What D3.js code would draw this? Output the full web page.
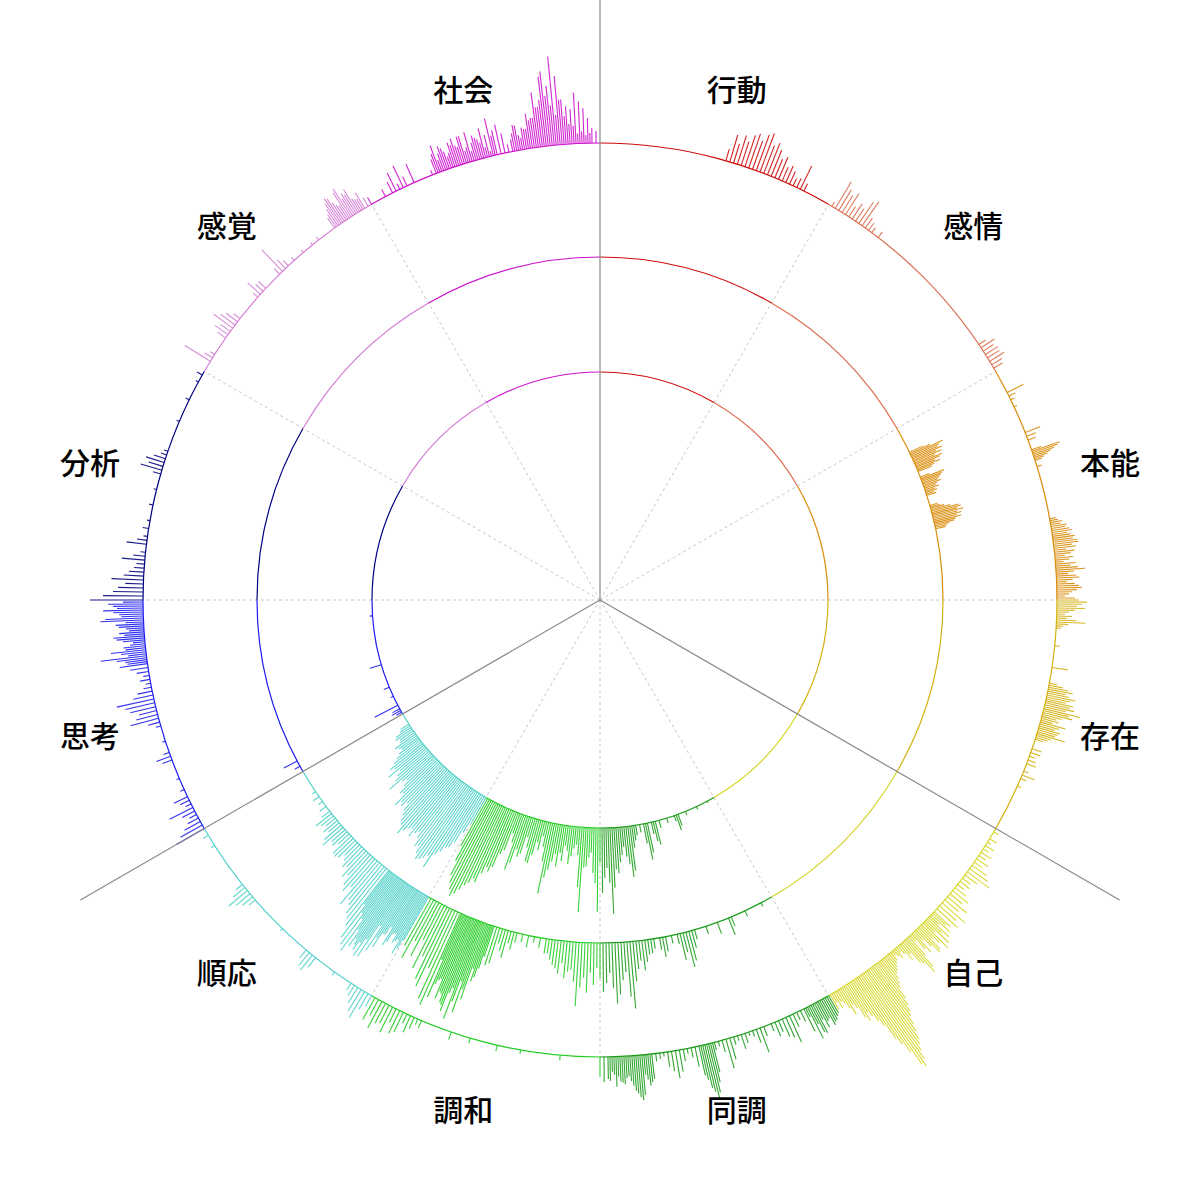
<!DOCTYPE html>
<html>
<head>
<meta charset="utf-8">
<script src="https://cdn.jsdelivr.net/npm/d3@7/dist/d3.min.js"></script>
<style>
  html, body { margin: 0; padding: 0; background: #ffffff; }
  svg { display: block; }
</style>
</head>
<body>
<svg id="chart" width="1200" height="1200"></svg>
<script>
// ---------------- DATA ----------------
const categories = ["行動","感情","本能","存在","自己","同調","調和","順応","思考","分析","感覚","社会"];
const categoryColors = ["#d00a0a","#db6e50","#d98c0a","#d3b00e","#d5d524","#1c9c1c","#22cc22","#4fd0c8","#1c1cf0","#000080","#d47ed4","#cc10cc"];

// Each entry: [start angle (deg, clockwise from top), angular step (deg), bar values]
const outerBars = [
  [16, 0.5, [12,28,20,30,25,33,36,30,38,41,30,34,28,20,24,15,18,14,8,10,26,8]],
  [30.5, 0.5, [5,31,24,20,25,12,18,15,26,29,12,9,6,0,7]],
  [56, 0.5, [8,16,12,15,14,17,12,10]],
  [63, 0.5, [18,7,4,0,3]],
  [68.5, 0.5, [16,10,8]],
  [70.8, 0.2, [10,29,26,22,18,14,10,7]],
  [73, 1, [5]],
  [79.75, 0.25, [6,8,12,10,16,14,18,20,15,18,22,20,24,25,18,22,12,20,16,10,18,14,8,20,15,22,29,18,12,20,23,16,10,18,22,25,20,15,12,8,18,22,30,25,20,28,18,12,8,15,10,20,29,12,7,5]],
  [95.75, 1, [5]],
  [98.5, 1, [16]],
  [100.5, 0.25, [8,14,20,25,18,22,29,24,20,28,25,30,22,37,26,30,20,15,18,12,26,20,16,22,20,18,29,15,12,8]],
  [109, 0.5, [10,10,6,8,10,0,5,13,6,0,4]],
  [120.5, 0.5, [5,0,8,4,10,6,12,8,14,10,18,22,27,15,10,12,8,14,20,16,25,18,30,22,28]],
  [133, 0.25, [22,18,25,12,28,20,32,15,35,25,18,30,32,22,12,26,20,8,24,38,43,30,27,14,20,10,6,12,8,5,10,12,15,18,20,25,30,34,45,52,58,62,70,78,86,90,96,104,112,108,92,80,72,55,48,40,35,43,38,25,20,30,22,15,12,18,10,17]],
  [150, 0.5, [20,25,29,22,18,30,35,25,12,8,14,29,22,19,12,15,8,0,10,26,14,6,4,10,15,5,8,22,30,12,5,8,40,56,44,30,20,10,5,12,22,28,20,15,4,6,8,25,31,20,45,38,30,20,28,25,30,15,22,25,20]],
  [150.25, 0.5, [22,26,20,28,32,20,10]],
  [165.75, 0.5, [30,50,48,35]],
  [173.75, 0.5, [28,25,40,42,35,25,22,26,20,18,24]],
  [185, 1, [5]],
  [190, 1, [4]],
  [193, 1, [6]],
  [196.5, 1, [5]],
  [199, 1, [8]],
  [203, 0.5, [8,6,12,18,10,22,25,15,28,20,22,30,18,25]],
  [210, 0.5, [12,18,30,25,18,12,8]],
  [215.5, 1, [4]],
  [218.5, 0.5, [12,19,17,10]],
  [224, 1, [3]],
  [229, 0.5, [8,13,18,24,15,8]],
  [237.5, 1, [4]],
  [239, 1, [6]],
  [240, 0.5, [32,25,18,12,8,14,26,6,10,15,0,4,0,0,3,0,0,0,0,10,15,6,0,0,3,0,0,0,5,12,29,22,18,26,30,38,20,15,8,5,10,6,12,18,28,22,46,25,20,15,22,31,25,18,28,43,22,30,26,35]],
  [262.25, 0.5, [20,30,18,35,22,12,28,20,15,25,18,38,24,40,30,20]],
  [270, 0.5, [53,40,30,25,18,32,20,15,10,8,23,12,5,0,20,10,4,0,6,0,3,0,0,0,4,0,0,0,3,0,0,0,8,22,15,19,12,6,4]],
  [293, 1, [3]],
  [296, 1, [4]],
  [298.5, 0.5, [3,0,6]],
  [301.5, 0.5, [30,9,5]],
  [305, 0.5, [10,16,12,24,18,14,8]],
  [311.5, 0.5, [6,17,10,10]],
  [315.5, 0.5, [8,30,12,7]],
  [318, 1, [4]],
  [319.5, 1, [3]],
  [321, 1, [3,4]],
  [324.5, 0.5, [12,20,30,22,16,33,25,27,13,18,10,8]],
  [324.75, 0.5, [15,25,28,18,30,20,22,15,12]],
  [332, 0.5, [8,0,12,20,6,24,10,0,20,0,0,0,0,5,15,28,18,22,12,25,28,18,28,15,10,25,20,30,22,38,25,30,20,8,12,26,15,22,20,28,30,40,47,75,60,89,69,45,38,35,51,42,35,25,15,12]],
  [339.25, 0.5, [20,12,25,18,15,22,20,28,12,30,18,22,16,10,5,20]],
  [349.25, 0.5, [18,25,12,20,35,30,55,40,70,50,40,30,45,28,20,18,10,12,8,10]]
];

const middleBars = [
  [64.5, 0.25, [15,22,35,30,28,32,25,30,22,29,26,20,25,18,15]],
  [69, 0.25, [10,25,22,20,18,16,19,14,12,15,10,12,8,10]],
  [74, 0.25, [8,10,14,20,28,30,26,32,25,29,24,28,22,20,15,12,10]],
  [152, 1, [4]],
  [155, 1, [6]],
  [157.5, 0.5, [10,18]],
  [160, 1, [12]],
  [162, 1, [8]],
  [164, 0.5, [10,18,30,36,20,27,10]],
  [168, 1, [8]],
  [169, 0.5, [15,20,12]],
  [171, 0.5, [10,14,15,22,30,20,28,40,67,55,30,38,52,61,45,30,40,49,35,25,42,30,50,35,45,64,40,28,30,37,22,33,28,25,20,14,15,0,10,0,6,0,12,0,8,0,10,18,12,28,22,15,37,40,32,55,47,70,63,104,78,92,82,88,70,90,100,95,63,85,78,55,70,40,60,45,66,54]],
  [198.25, 0.5, [45,60,80,95,85,72,98,90,80,68,75,50]],
  [210, 0.5, [50,67,55,48,60,45,55,62,50,69,75,80,85,93,88,82,70,64,60,52,48,57,37,45,40,30,35,25,28,22,18,24,26,25,15,20,18,27,22,14,18,12,16,20,10,0,8,0,5,0,7,0,4]],
  [210.25, 0.5, [60,52,58,50,65,55,72,78,88,90,85,75,66,55,50,42]],
  [241, 1, [6,15]]
];

const innerBars = [
  [152, 1, [2]],
  [155, 1, [3]],
  [158, 1, [4]],
  [160, 0.5, [12,16,6]],
  [163, 1, [5]],
  [165, 0.5, [8,0,24,20,12,0,30,37,20,0,8,0,10,15,22,45,51,38,30,20,28,35,46,42,60,86,55,40,50,65,35,84,55,45,25,30,39,40,85,60,28,18,22,30,38,25,20,36,28,42,30,38,47,55,72,40,25,15,30,22,36,45,44,30,20,38,42,35,50,58,30,21,40,45,60,66,62,70,81,78,84,88,94,100,104,98,92,85,70,55]],
  [210, 0.5, [30,42,55,62,64,70,75,92,80,85,88,90,85,78,80,72,66,70,76,68,70,75,81,72,69,64,60,52,58,55,62,48,50,42,36,40,55,45,40,35,48,38,42,35,30,25,20,22,25,18,16,20,18,12,10]],
  [240.5, 0.5, [6,10,8,0,26]],
  [245, 1, [3]],
  [247.5, 1, [6]],
  [253.5, 1, [12]],
  [266, 1, [3]]
];

// ---------------- LAYOUT ----------------
const W = 1200, H = 1200, cx = 600, cy = 600;
const ringRadius = { inner: 228, middle: 343, outer: 457 };
const labelRadius = 528;
const axisLength = 600;

const svg = d3.select("#chart");
const g = svg.append("g").attr("transform", `translate(${cx},${cy})`);

const angle = d3.scaleLinear().domain([0, 360]).range([0, 2 * Math.PI]);
const barLen = d3.scaleLinear().domain([0, 100]).range([0, 100]);
const segIndex = a => Math.min(11, Math.max(0, Math.floor(((a % 360) + 360) % 360 / 30)));

// dotted radial guides
const guideAngles = d3.range(0, 360, 30).filter(a => a % 120 !== 0);
g.append("g").selectAll("line").data(guideAngles).join("line")
  .attr("x1", 0).attr("y1", 0)
  .attr("x2", d => d3.pointRadial(angle(d), ringRadius.outer)[0])
  .attr("y2", d => d3.pointRadial(angle(d), ringRadius.outer)[1])
  .attr("stroke", "#c8c8c8").attr("stroke-width", 1).attr("stroke-dasharray", "3,3");

// rings made of colored arcs
const ringArc = d3.arc();
const ringList = [ringRadius.inner, ringRadius.middle, ringRadius.outer];
ringList.forEach(r => {
  g.append("g").selectAll("path").data(categories).join("path")
    .attr("d", (d, i) => ringArc({
      innerRadius: r - 0.6, outerRadius: r + 0.6,
      startAngle: angle(i * 30), endAngle: angle((i + 1) * 30)
    }))
    .attr("fill", (d, i) => categoryColors[i]);
});

// bars
function expand(clusters, r) {
  const out = [];
  clusters.forEach(([start, step, vals]) => {
    vals.forEach((v, i) => {
      if (v > 0) out.push({ a: start + i * step, v, r });
    });
  });
  return out;
}
const allBars = [
  ...expand(outerBars, ringRadius.outer),
  ...expand(middleBars, ringRadius.middle),
  ...expand(innerBars, ringRadius.inner)
];
g.append("g").selectAll("line").data(allBars).join("line")
  .attr("x1", d => d3.pointRadial(angle(d.a), d.r)[0])
  .attr("y1", d => d3.pointRadial(angle(d.a), d.r)[1])
  .attr("x2", d => d3.pointRadial(angle(d.a), d.r + barLen(d.v))[0])
  .attr("y2", d => d3.pointRadial(angle(d.a), d.r + barLen(d.v))[1])
  .attr("stroke", d => categoryColors[segIndex(d.a)])
  .attr("stroke-width", 1.1)
  .attr("stroke-opacity", 0.9);

// solid axes at 0, 120, 240 degrees
const axisAngles = [0, 120, 240];
g.append("g").selectAll("line").data(axisAngles).join("line")
  .attr("x1", 0).attr("y1", 0)
  .attr("x2", d => d3.pointRadial(angle(d), axisLength)[0])
  .attr("y2", d => d3.pointRadial(angle(d), axisLength)[1])
  .attr("stroke", "#888888").attr("stroke-width", 1.2);

// labels
g.append("g").selectAll("text").data(categories).join("text")
  .attr("x", (d, i) => d3.pointRadial(angle(i * 30 + 15), labelRadius)[0])
  .attr("y", (d, i) => d3.pointRadial(angle(i * 30 + 15), labelRadius)[1] - 2.5)
  .attr("text-anchor", "middle")
  .attr("dominant-baseline", "central")
  .attr("font-family", "'Noto Sans CJK JP', 'Noto Sans', sans-serif")
  .attr("font-size", 30)
  .attr("font-weight", 500)
  .attr("fill", "#000")
  .text(d => d);
</script>
</body>
</html>
